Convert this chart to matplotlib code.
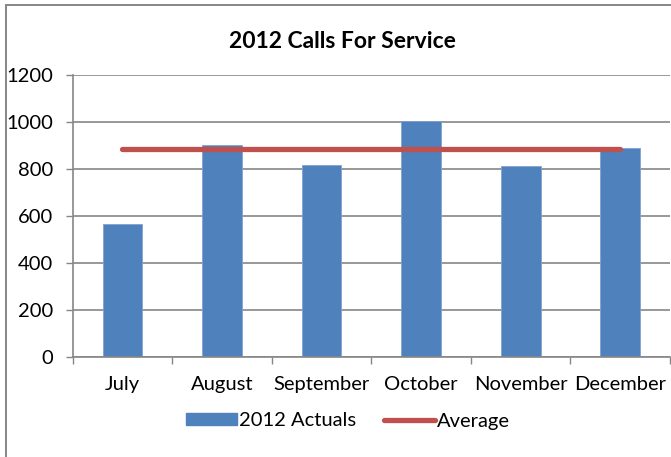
import matplotlib
matplotlib.use("Agg")
import matplotlib.pyplot as plt
from matplotlib.patches import Patch, Rectangle
from matplotlib.lines import Line2D

# Monthly calls for service, second half of 2012
months = ["July", "August", "September", "October", "November", "December"]
actuals = [563, 900, 815, 1004, 810, 887]
average = [884, 884, 884, 884, 884, 884]
y_ticks = [0, 200, 400, 600, 800, 1000, 1200]

bar_color = "#4F81BD"
avg_color = "#C0504D"
grid_color = "#868686"

plt.rcParams["font.family"] = ["Lato", "DejaVu Sans"]

W, H = 671, 457
fig = plt.figure(figsize=(W / 100, H / 100), dpi=100)

# chart-area frame (runs off the right and bottom edges)
fig.patches.append(Rectangle((6 / W, -0.1), 1.1, 1 - 5 / H + 0.1,
                             transform=fig.transFigure, fill=False,
                             edgecolor=grid_color, linewidth=1.4))

left, right, top, bottom = 72.7, 670, 74.7, 356.7
ax = fig.add_axes([left / W, 1 - bottom / H, (right - left) / W, (bottom - top) / H])

x = list(range(len(months)))
ax.bar(x, actuals, width=0.4, color=bar_color, edgecolor="#7FA3CF", linewidth=0.6, zorder=2)
ax.plot(x, average, color=avg_color, linewidth=3.8, solid_capstyle="round", zorder=3)

ax.set_xlim(-0.5, len(months) - 0.5)
ax.set_ylim(0, 1200)
ax.set_yticks(y_ticks)
ax.set_yticklabels([str(v) for v in y_ticks], fontsize=14.5)
ax.set_xticks(x)
ax.set_xticklabels(months, fontsize=14.5)
ax.set_xticks([i - 0.5 for i in range(len(months) + 1)], minor=True)
ax.tick_params(axis="x", which="major", length=0, pad=14)
ax.tick_params(axis="x", which="minor", length=5, color=grid_color, width=1)
ax.tick_params(axis="y", length=5, color=grid_color, width=1, pad=9)

ax.yaxis.grid(True, color=grid_color, linewidth=1.2, zorder=0)
ax.set_axisbelow(True)
for side in ["top", "right"]:
    ax.spines[side].set_visible(False)
for side in ["left", "bottom"]:
    ax.spines[side].set_color(grid_color)
    ax.spines[side].set_linewidth(1.2)

fig.text(342 / W, 1 - 42 / H, "2012 Calls For Service", ha="center", va="center",
         fontsize=16.5, fontweight="bold")

handles = [Patch(facecolor=bar_color, edgecolor=bar_color),
           Line2D([0], [0], color=avg_color, linewidth=3.8, solid_capstyle="round")]
fig.legend(handles, ["2012 Actuals", "Average"], loc="center",
           bbox_to_anchor=(348 / W, 1 - 421 / H), ncol=2, frameon=False,
           fontsize=14.5, handlelength=2.5, handleheight=0.55,
           handletextpad=0.1, columnspacing=1.4)

fig.savefig("out.png", dpi=100)
